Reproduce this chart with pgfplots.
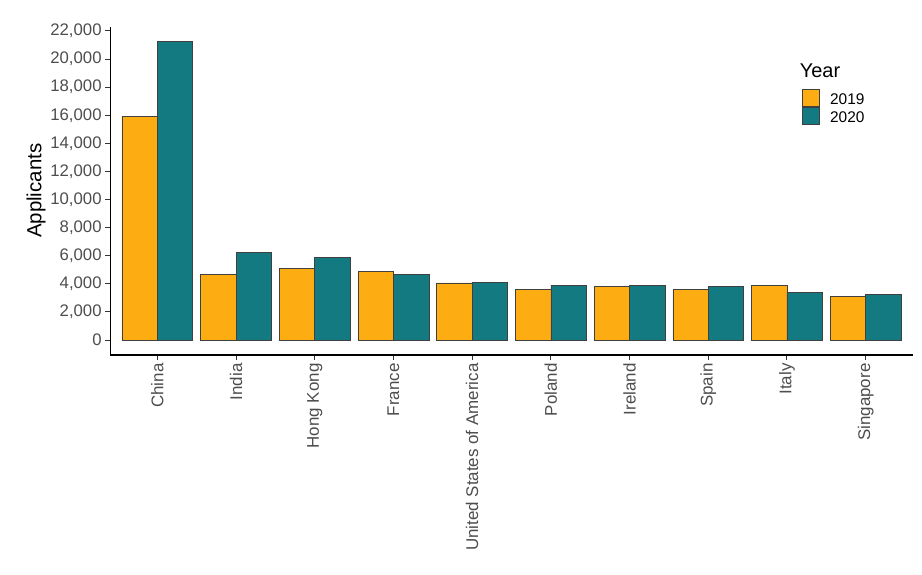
\documentclass[border=0pt]{standalone}
\usepackage{fontspec}
\setmainfont{Liberation Sans}
\usepackage{pgfplots}
\pgfplotsset{compat=1.18}
\definecolor{bar19}{RGB}{253,173,18}
\definecolor{bar20}{RGB}{19,122,130}
\definecolor{tickgray}{RGB}{77,77,77}
\begin{document}
\begin{tikzpicture}
\useasboundingbox (-110.1bp,-220bp) rectangle (811.9bp,355bp);
\begin{axis}[
  scale only axis, width=802.8bp, height=328.4bp,
  xmin=0.4, xmax=10.6, ymin=-1062, ymax=22312,
  axis x line*=bottom, axis y line*=left,
  axis line style={black, line width=1.1bp},
  tick align=outside, major tick length=5bp,
  tick style={black!80, line width=1bp},
  xtick={1,...,10},
  xticklabels={China,India,Hong Kong,France,United States of America,Poland,Ireland,Spain,Italy,Singapore},
  x tick label style={rotate=90, anchor=east, font=\fontsize{17}{20}\selectfont, text=tickgray},
  ytick={0,2000,...,22000},
  y tick label style={font=\fontsize{16.8}{20}\selectfont, text=tickgray},
  /pgf/number format/.cd, 1000 sep={,}, assume math mode=true, /pgfplots/.cd,
  scaled y ticks=false,
  ylabel={Applicants},
  ylabel style={font=\fontsize{20.5}{24}\selectfont, at={(axis description cs:-0.0922,0.5)}, anchor=center},
  legend style={draw=none, fill=none, at={(rel axis cs:0.861,0.81)}, anchor=north west,
    font=\fontsize{15.5}{17}\selectfont, row sep=0pt, inner sep=0pt,
    nodes={inner sep=0pt}},
  legend cell align=left,
  legend image code/.code={\draw[#1, draw=black!75, line width=0.6bp] (0bp,-6.5bp) rectangle (17bp,10.5bp);},
]
\addplot[ybar, bar width=0.45, bar shift=-0.225, fill=bar19, draw=black!75, line width=0.5bp]
  coordinates {(1,15900) (2,4680) (3,5100) (4,4870) (5,4080) (6,3610) (7,3820) (8,3590) (9,3890) (10,3090)};
\addlegendentry{\hspace{11bp}2019}
\addplot[ybar, bar width=0.45, bar shift=0.225, fill=bar20, draw=black!75, line width=0.5bp]
  coordinates {(1,21250) (2,6250) (3,5880) (4,4680) (5,4130) (6,3910) (7,3870) (8,3820) (9,3420) (10,3250)};
\addlegendentry{\hspace{11bp}2020}
\node[anchor=base west, font=\fontsize{20}{24}\selectfont, inner sep=0pt] at (rel axis cs:0.859,0.8435) {Year};
\end{axis}
\end{tikzpicture}
\end{document}
